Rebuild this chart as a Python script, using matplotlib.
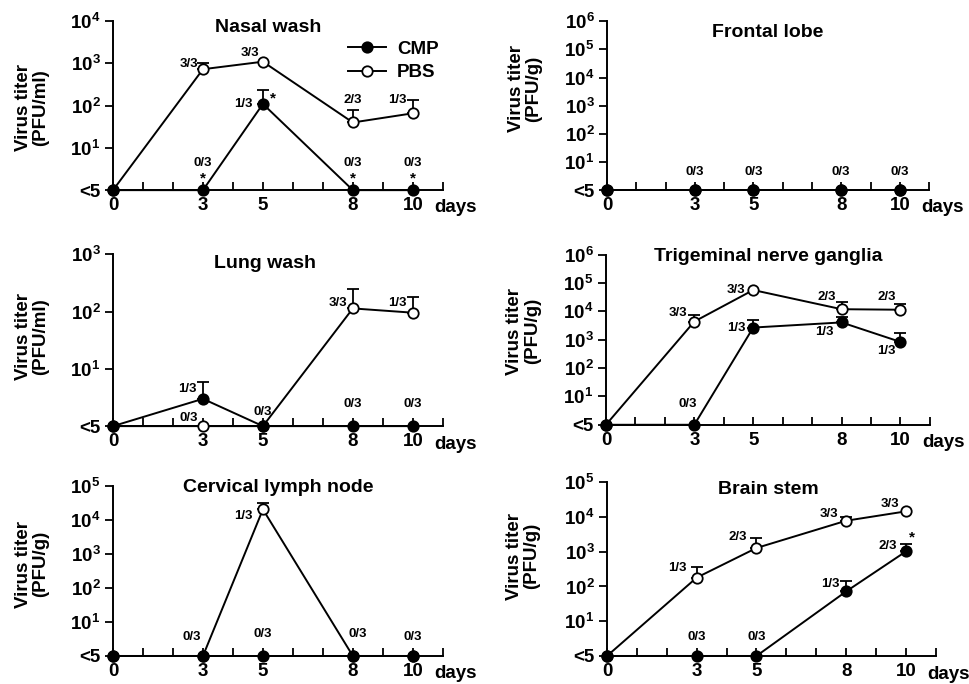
import matplotlib
matplotlib.use("Agg")
import matplotlib.pyplot as plt
from matplotlib.lines import Line2D
from matplotlib.ticker import NullLocator
import numpy as np

plt.rcParams["font.family"] = ["Liberation Sans", "DejaVu Sans"]
plt.rcParams["font.weight"] = "bold"
plt.rcParams["mathtext.fontset"] = "custom"
plt.rcParams["mathtext.rm"] = "Liberation Sans:bold"
plt.rcParams["mathtext.it"] = "Liberation Sans:bold"
plt.rcParams["mathtext.bf"] = "Liberation Sans:bold"
plt.rcParams["mathtext.default"] = "rm"

# ── data ────────────────────────────────────────────────────────
DAYS = [0, 3, 5, 8, 10]
ND = 1.0  # "<5" (below detection) sits on the axis floor

nasal_cmp = [ND, ND, 110, ND, ND]
nasal_cmp_sd = [0, 0, 120, 0, 0]
nasal_pbs = [ND, 730, 1100, 40, 66]
nasal_pbs_sd = [0, 310, 0, 39, 70]

frontal_cmp = [ND, ND, ND, ND, ND]
frontal_cmp_sd = [0, 0, 0, 0, 0]
frontal_pbs = [ND, ND, ND, ND, ND]
frontal_pbs_sd = [0, 0, 0, 0, 0]

lung_cmp = [ND, 3.0, ND, ND, ND]
lung_cmp_sd = [0, 2.9, 0, 0, 0]
lung_pbs = [ND, ND, ND, 114, 96]
lung_pbs_sd = [0, 0, 0, 136, 82]

trig_cmp = [ND, ND, 2700, 4100, 840]
trig_cmp_sd = [0, 0, 2300, 2500, 860]
trig_pbs = [ND, 4400, 57000, 12000, 11500]
trig_pbs_sd = [0, 3000, 0, 9000, 6500]

cerv_cmp = [ND, ND, ND, ND, ND]
cerv_cmp_sd = [0, 0, 0, 0, 0]
cerv_pbs = [ND, ND, 20500, ND, ND]
cerv_pbs_sd = [0, 0, 10500, 0, 0]

brain_cmp = [ND, ND, ND, 72, 1020]
brain_cmp_sd = [0, 0, 0, 67, 640]
brain_pbs = [ND, 180, 1280, 7800, 14500]
brain_pbs_sd = [0, 175, 1190, 2200, 0]

# positive animals / total, (series, day, text, dx px, dy px, ha)
nasal_notes = [("pbs", 3, "3/3", -5, 5, "right"), ("pbs", 5, "3/3", -13, 9, "center"),
               ("cmp", 5, "1/3", -10, 0, "right"), ("cmp", 5, "*", 10, 5, "center"),
               ("pbs", 8, "2/3", 0, 22, "center"), ("pbs", 10, "1/3", -15, 13, "center"),
               ("cmp", 3, "0/3", 0, 27, "center"), ("cmp", 3, "*", 0, 12, "center"),
               ("cmp", 8, "0/3", 0, 27, "center"), ("cmp", 8, "*", 0, 12, "center"),
               ("cmp", 10, "0/3", 0, 27, "center"), ("cmp", 10, "*", 0, 12, "center")]
frontal_notes = [("cmp", d, "0/3", 0, 18, "center") for d in (3, 5, 8, 10)]
lung_notes = [("cmp", 3, "1/3", -6, 10, "right"), ("pbs", 3, "0/3", -5, 8, "right"),
              ("cmp", 5, "0/3", 0, 14, "center"), ("pbs", 8, "3/3", -6, 5, "right"),
              ("pbs", 10, "1/3", -6, 10, "right"), ("cmp", 8, "0/3", 0, 22, "center"),
              ("cmp", 10, "0/3", 0, 22, "center")]
trig_notes = [("pbs", 3, "3/3", -7, 9, "right"), ("pbs", 5, "3/3", -8, 0, "right"),
              ("pbs", 8, "2/3", -15, 12, "center"), ("pbs", 10, "2/3", -14, 13, "center"),
              ("cmp", 5, "1/3", -8, 0, "right"), ("cmp", 8, "1/3", -17, -10, "center"),
              ("cmp", 10, "1/3", -14, -9, "center"), ("cmp", 3, "0/3", -7, 21, "center")]
cerv_notes = [("pbs", 5, "1/3", -10, -7, "right"), ("cmp", 3, "0/3", -11, 19, "center"),
              ("cmp", 5, "0/3", 0, 22, "center"), ("cmp", 8, "0/3", 5, 22, "center"),
              ("cmp", 10, "0/3", 0, 19, "center")]
brain_notes = [("pbs", 3, "1/3", -10, 10, "right"), ("pbs", 5, "2/3", -9, 11, "right"),
               ("pbs", 8, "3/3", -8, 7, "right"), ("pbs", 10, "3/3", -16, 7, "center"),
               ("cmp", 8, "1/3", -7, 7, "right"), ("cmp", 10, "2/3", -9, 5, "right"),
               ("cmp", 10, "*", 6, 14, "center"),
               ("cmp", 3, "0/3", 0, 19, "center"), ("cmp", 5, "0/3", 0, 19, "center")]

FS = 13.5


def draw_panel(ax, title, unit, ytop, cmp, cmp_sd, pbs, pbs_sd, notes, title_pos, ylab_pos):
    ax.set_yscale("log")
    for vals, sd, face, z in ((pbs, pbs_sd, "white", 3), (cmp, cmp_sd, "black", 5)):
        ax.plot(DAYS, vals, "-", color="black", lw=1.4, marker="o", ms=7.5,
                mfc=face, mec="black", mew=1.3, clip_on=False, zorder=z)
        idx = [i for i, s in enumerate(sd) if s > 0]
        if idx:
            ax.errorbar([DAYS[i] for i in idx], [vals[i] for i in idx],
                        yerr=[np.zeros(len(idx)), [sd[i] for i in idx]],
                        fmt="none", ecolor="black", elinewidth=1.3, capsize=4,
                        capthick=1.3, zorder=z - 1, clip_on=False)
    ax.set_xlim(0, 11)
    ax.set_ylim(1, 10 ** ytop)
    ax.set_xticks(range(12))
    ax.set_xticklabels(["0", "", "", "3", "", "5", "", "", "8", "", "10", ""])
    ax.set_yticks([10 ** k for k in range(ytop + 1)])
    ax.set_yticklabels(["<5"] + [rf"$10^{{{k}}}$" for k in range(1, ytop + 1)])
    ax.yaxis.set_minor_locator(NullLocator())
    ax.tick_params(axis="x", direction="in", length=6, width=1.3, pad=5, labelsize=FS)
    ax.tick_params(axis="y", direction="out", length=6, width=1.3, pad=3, labelsize=FS)
    for s in ("top", "right"):
        ax.spines[s].set_visible(False)
    for s in ("left", "bottom"):
        ax.spines[s].set_linewidth(1.4)
    ax.text(title_pos[0], title_pos[1], title, transform=ax.transAxes,
            ha="center", va="center", fontsize=14, fontweight="bold")
    ax.text(ylab_pos[0], ylab_pos[1], f"Virus titer\n({unit})", transform=ax.transAxes,
            rotation=90, ha="center", va="center", fontsize=FS, fontweight="bold",
            linespacing=1.05)
    ax.text(0.975, -0.105, "days", transform=ax.transAxes, ha="left", va="center",
            fontsize=FS, fontweight="bold")
    series = {"cmp": cmp, "pbs": pbs}
    for key, day, txt, dx, dy, ha in notes:
        y = series[key][DAYS.index(day)]
        ax.annotate(txt, (day, y), xytext=(dx, dy), textcoords="offset pixels",
                    ha=ha, va="center", fontsize=9.5 if txt != "*" else 11,
                    fontweight="bold", annotation_clip=False, zorder=6)


fig = plt.figure(figsize=(9.70, 6.84), dpi=100)
fig.patch.set_facecolor("white")

ax1 = fig.add_axes([0.1165, 0.722, 0.340, 0.247])
ax2 = fig.add_axes([0.6258, 0.722, 0.332, 0.247])
ax3 = fig.add_axes([0.1165, 0.377, 0.340, 0.251])
ax4 = fig.add_axes([0.6247, 0.379, 0.334, 0.2485])
ax5 = fig.add_axes([0.1165, 0.041, 0.340, 0.2485])
ax6 = fig.add_axes([0.6258, 0.041, 0.339, 0.254])

draw_panel(ax1, "Nasal wash", "PFU/ml", 4, nasal_cmp, nasal_cmp_sd, nasal_pbs, nasal_pbs_sd,
           nasal_notes, (0.47, 0.96), (-0.245, 0.49))
draw_panel(ax2, "Frontal lobe", "PFU/g", 6, frontal_cmp, frontal_cmp_sd, frontal_pbs,
           frontal_pbs_sd, frontal_notes, (0.50, 0.935), (-0.255, 0.60))
draw_panel(ax3, "Lung wash", "PFU/ml", 3, lung_cmp, lung_cmp_sd, lung_pbs, lung_pbs_sd,
           lung_notes, (0.46, 0.95), (-0.245, 0.52))
draw_panel(ax4, "Trigeminal nerve ganglia", "PFU/g", 6, trig_cmp, trig_cmp_sd, trig_pbs,
           trig_pbs_sd, trig_notes, (0.50, 0.99), (-0.255, 0.55))
draw_panel(ax5, "Cervical lymph node", "PFU/g", 5, cerv_cmp, cerv_cmp_sd, cerv_pbs,
           cerv_pbs_sd, cerv_notes, (0.50, 0.99), (-0.245, 0.54))
draw_panel(ax6, "Brain stem", "PFU/g", 5, brain_cmp, brain_cmp_sd, brain_pbs, brain_pbs_sd,
           brain_notes, (0.49, 0.96), (-0.255, 0.575))

handles = [Line2D([], [], color="black", lw=1.4, marker="o", ms=7.5, mfc="black",
                  mec="black", mew=1.3, label="CMP"),
           Line2D([], [], color="black", lw=1.4, marker="o", ms=7.5, mfc="white",
                  mec="black", mew=1.3, label="PBS")]
ax1.legend(handles=handles, loc="upper left", bbox_to_anchor=(0.69, 0.93), frameon=False,
           fontsize=FS, handlelength=2.0, handletextpad=0.6, labelspacing=0.35,
           borderaxespad=0)

fig.savefig("out.png", dpi=100, facecolor="white")
